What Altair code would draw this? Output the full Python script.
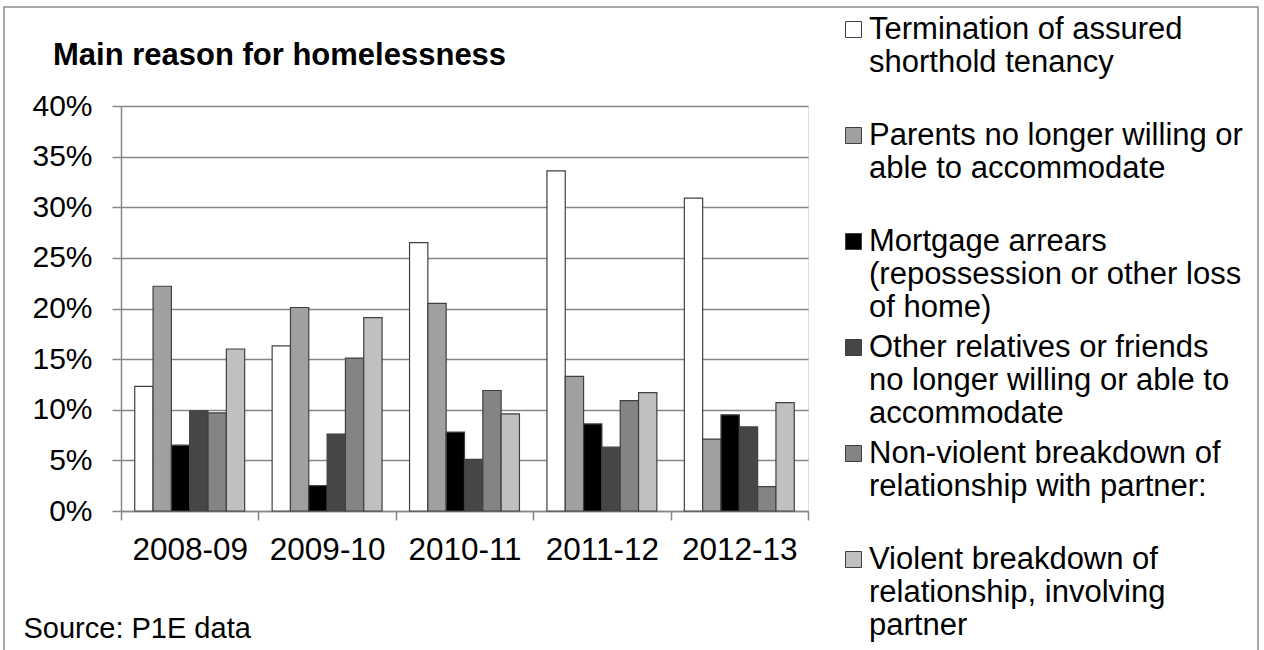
import altair as alt
import pandas as pd

years = ["2008-09", "2009-10", "2010-11", "2011-12", "2012-13"]

# legend labels; "|" marks a line break (2-line entries padded to 3 lines)
series = [
    "Termination of assured|shorthold tenancy|",
    "Parents no longer willing or|able to accommodate|",
    "Mortgage arrears|(repossession or other loss|of home)",
    "Other relatives or friends|no longer willing or able to|accommodate",
    "Non-violent breakdown of|relationship with partner:|",
    "Violent breakdown of|relationship, involving|partner",
]

termination = [12.3, 16.3, 26.5, 33.6, 30.9]
parents = [22.2, 20.1, 20.5, 13.3, 7.1]
mortgage = [6.5, 2.5, 7.8, 8.6, 9.5]
other_relatives = [9.9, 7.6, 5.1, 6.3, 8.3]
non_violent = [9.7, 15.1, 11.9, 10.9, 2.4]
violent = [16.0, 19.1, 9.6, 11.7, 10.7]

colors = ["#FFFFFF", "#A0A0A0", "#000000", "#464646", "#848484", "#C0C0C0"]
y_ticks = [0, 0.05, 0.10, 0.15, 0.20, 0.25, 0.30, 0.35, 0.40]

all_values = [termination, parents, mortgage, other_relatives, non_violent, violent]
rows = []
for name, vals in zip(series, all_values):
    for yr, v in zip(years, vals):
        rows.append({"year": yr, "series": name, "value": v / 100.0})
df = pd.DataFrame(rows)

FONT = "Liberation Sans"
GRAY = "#868686"

bars = alt.Chart(df).mark_bar(stroke="#404040", strokeWidth=1.2).encode(
    x=alt.X(
        "year:N",
        sort=years,
        scale=alt.Scale(paddingInner=0, paddingOuter=0),
        axis=alt.Axis(
            title="Source: P1E data",
            titleX=-98,
            titleY=126,
            titleAlign="left",
            titleAnchor="start",
            titleBaseline="alphabetic",
            titleFontSize=29,
            titleFontWeight="normal",
            titleFont=FONT,
            titleColor="#000000",
            tickBand="extent",
            labelAngle=0,
            labelFontSize=31.5,
            labelFont=FONT,
            labelColor="#000000",
            labelPadding=14,
            tickSize=9,
            tickColor=GRAY,
            tickWidth=1.5,
            domainColor=GRAY,
            domainWidth=1.5,
            grid=False,
        ),
    ),
    xOffset=alt.XOffset(
        "series:N",
        sort=series,
        scale=alt.Scale(paddingInner=0, paddingOuter=0.75),
    ),
    y=alt.Y(
        "value:Q",
        scale=alt.Scale(domain=[0, 0.4], nice=False),
        axis=alt.Axis(
            title=None,
            values=y_ticks,
            format=".0%",
            labelFontSize=30,
            labelFont=FONT,
            labelColor="#000000",
            labelPadding=20,
            tickSize=9,
            tickColor=GRAY,
            tickWidth=1.5,
            domainColor=GRAY,
            domainWidth=1.5,
            gridColor=GRAY,
            gridWidth=1.5,
        ),
    ),
    color=alt.Color(
        "series:N",
        sort=series,
        scale=alt.Scale(domain=series, range=colors),
        legend=alt.Legend(
            title=None,
            orient="none",
            legendX=717,
            legendY=-92,
            padding=0,
            symbolType="square",
            symbolSize=256,
            symbolStrokeColor="#404040",
            symbolStrokeWidth=1,
            labelExpr="split(datum.label, '|')",
            labelFontSize=31,
            labelFont=FONT,
            labelColor="#000000",
            labelLimit=700,
            labelOffset=0,
            labelBaseline="middle",
            rowPadding=8,
        ),
    ),
)

frame = alt.Chart(pd.DataFrame({"frame": [0]})).mark_rect(
    fill=None, stroke="#8c8c8c", strokeWidth=1.5
).encode(
    x=alt.value(-117), x2=alt.value(1137), y=alt.value(-99), y2=alt.value(600)
)

chart = alt.layer(frame, bars).properties(
    width=687,
    height=405,
    autosize=alt.AutoSizeParams(type="none"),
    padding={"left": 121, "top": 106, "right": 456, "bottom": 139},
    title=alt.TitleParams(
        "Main reason for homelessness",
        anchor="start",
        frame="group",
        dx=-68,
        offset=-90,
        baseline="alphabetic",
        fontSize=31,
        fontWeight="bold",
        font=FONT,
        color="#000000",
    ),
).configure_view(stroke=None).configure(background="white")

chart.save("out.html", embed_options={"renderer": "svg", "actions": False})
